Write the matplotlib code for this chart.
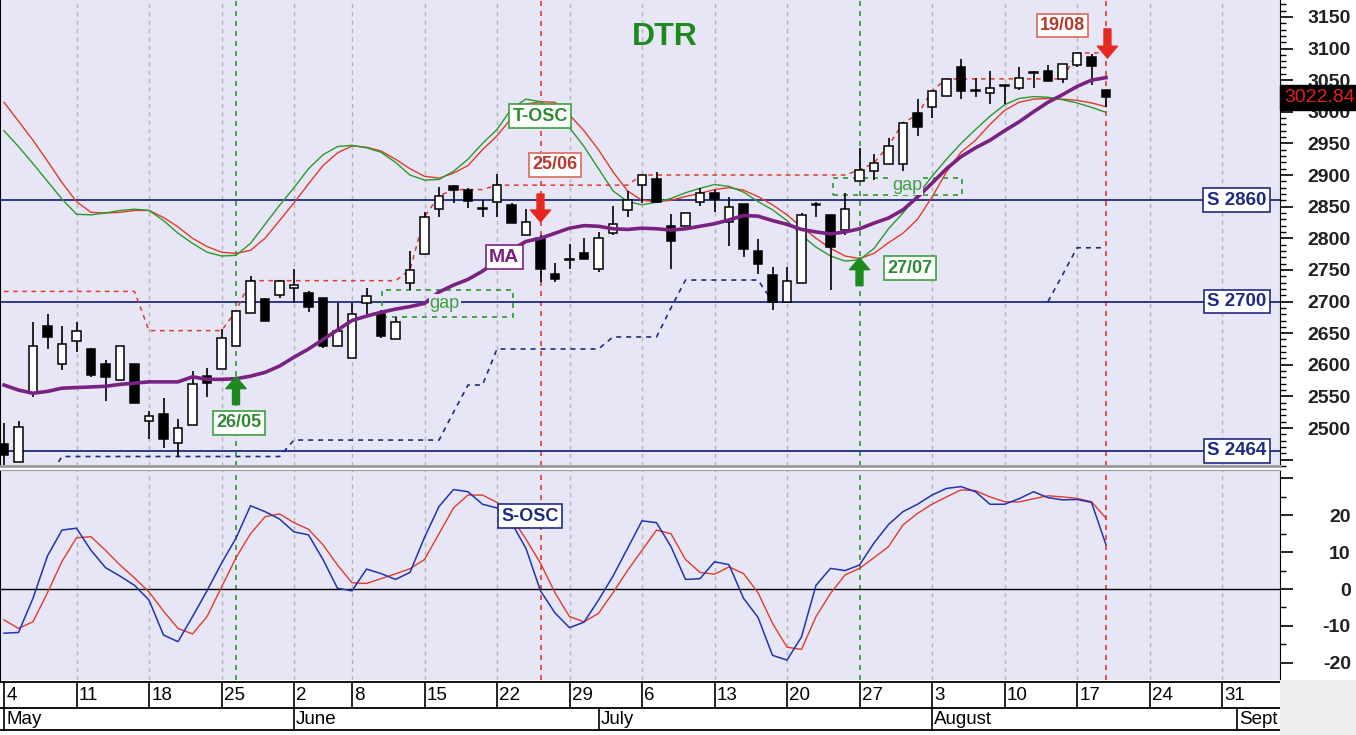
import numpy as np
import matplotlib
matplotlib.use("Agg")
import matplotlib.pyplot as plt
from matplotlib.patches import Rectangle
import matplotlib.transforms as mtransforms

plt.rcParams['font.family'] = ['Liberation Sans', 'DejaVu Sans']

# ---- data (one value per trading day, 4 May .. 19 Aug) ----
opens = [2475, 2446, 2555, 2661, 2601, 2637, 2625, 2601, 2576, 2601,
         2511, 2522, 2476, 2505, 2583, 2594, 2630, 2682, 2704, 2711,
         2721, 2713, 2706, 2629, 2611, 2697, 2680, 2641, 2729, 2775,
         2847, 2883, 2876, 2846, 2857, 2853, 2805, 2800, 2743, 2766,
         2777, 2751, 2808, 2844, 2884, 2894, 2820, 2820, 2858, 2871,
         2825, 2854, 2780, 2742, 2700, 2730, 2852, 2837, 2813, 2891,
         2907, 2917, 2917, 2998, 3007, 3025, 3071, 3033, 3029, 3041,
         3037, 3061, 3064, 3052, 3074, 3086, 3035]
highs = [2508, 2511, 2668, 2680, 2661, 2668, 2627, 2607, 2630, 2601,
         2527, 2548, 2514, 2590, 2595, 2656, 2685, 2740, 2706, 2733,
         2751, 2716, 2706, 2698, 2698, 2721, 2687, 2676, 2780, 2842,
         2881, 2885, 2879, 2860, 2902, 2855, 2847, 2805, 2761, 2791,
         2800, 2810, 2851, 2875, 2900, 2904, 2838, 2840, 2879, 2876,
         2866, 2854, 2799, 2754, 2754, 2840, 2858, 2837, 2871, 2942,
         2934, 2958, 2983, 3020, 3033, 3052, 3083, 3053, 3064, 3043,
         3071, 3064, 3074, 3075, 3093, 3092, 3035]
lows = [2442, 2446, 2549, 2625, 2592, 2621, 2581, 2542, 2576, 2539,
        2483, 2469, 2455, 2505, 2549, 2594, 2630, 2682, 2670, 2705,
        2698, 2684, 2626, 2629, 2611, 2681, 2642, 2641, 2718, 2775,
        2834, 2855, 2848, 2834, 2834, 2824, 2805, 2731, 2731, 2752,
        2767, 2746, 2805, 2834, 2855, 2855, 2751, 2820, 2851, 2842,
        2788, 2771, 2743, 2687, 2700, 2730, 2834, 2718, 2805, 2891,
        2892, 2917, 2907, 2962, 2990, 3025, 3020, 3024, 3013, 3013,
        3035, 3037, 3049, 3045, 3070, 3042, 3008]
closes = [2457, 2501, 2630, 2644, 2633, 2654, 2584, 2581, 2630, 2539,
          2519, 2483, 2500, 2570, 2571, 2643, 2685, 2733, 2670, 2733,
          2726, 2692, 2629, 2654, 2680, 2708, 2646, 2668, 2750, 2834,
          2867, 2877, 2859, 2848, 2884, 2824, 2826, 2752, 2736, 2768,
          2767, 2800, 2823, 2860, 2900, 2857, 2796, 2840, 2872, 2862,
          2849, 2783, 2759, 2700, 2732, 2837, 2854, 2787, 2846, 2908,
          2919, 2946, 2983, 2976, 3033, 3052, 3033, 3035, 3037, 3043,
          3053, 3063, 3049, 3075, 3093, 3072, 3022.84]

ma = [2568, 2560, 2555, 2558, 2563, 2564, 2565, 2566, 2569, 2571,
      2573, 2573, 2573, 2581, 2577, 2577, 2578, 2582, 2588, 2598,
      2612, 2625, 2640, 2655, 2670, 2677, 2683, 2688, 2692, 2697,
      2715, 2726, 2735, 2748, 2765, 2782, 2795, 2800, 2808, 2816,
      2820, 2819, 2815, 2814, 2816, 2815, 2813, 2815, 2819, 2823,
      2829, 2836, 2835, 2828, 2822, 2814, 2810, 2807, 2810, 2815,
      2824, 2832, 2845, 2865, 2887, 2910, 2929, 2943, 2955, 2970,
      2984, 3000, 3015, 3027, 3040, 3050, 3054]

tosc_fast = [2970, 2945, 2918, 2890, 2862, 2838, 2837, 2840, 2844, 2846,
             2844, 2828, 2808, 2792, 2778, 2772, 2773, 2792, 2822, 2852,
             2880, 2910, 2932, 2945, 2947, 2943, 2936, 2920, 2900, 2892,
             2893, 2906, 2925, 2950, 2972, 3005, 3020, 3016, 3000, 2975,
             2945, 2910, 2875, 2858, 2853, 2857, 2863, 2872, 2879, 2885,
             2882, 2873, 2858, 2845, 2828, 2805, 2786, 2772, 2764, 2766,
             2784, 2815, 2840, 2868, 2898, 2925, 2950, 2972, 2993, 3011,
             3021, 3024, 3023, 3019, 3014, 3007, 2999]
tosc_slow = [3015, 2985, 2955, 2922, 2888, 2858, 2841, 2840, 2841, 2844,
             2844, 2833, 2818, 2800, 2787, 2778, 2776, 2781, 2800, 2828,
             2856, 2886, 2915, 2935, 2946, 2944, 2938, 2925, 2910, 2898,
             2895, 2903, 2915, 2940, 2962, 2990, 3012, 3016, 3015, 2995,
             2970, 2940, 2905, 2875, 2860, 2858, 2860, 2866, 2871, 2877,
             2880, 2876, 2866, 2853, 2837, 2818, 2800, 2784, 2772, 2768,
             2776, 2793, 2808, 2830, 2865, 2905, 2936, 2955, 2980, 3002,
             3015, 3020, 3021, 3020, 3018, 3014, 3008]

resist = ([2716] * 10 + [2654] * 6 + [2685] + [2733] * 11 + [2750, 2834, 2867]
          + [2877] * 3 + [2884] * 10 + [2900] * 15 + [2908, 2919, 2946, 2983, 2995, 3033]
          + [3052] * 9 + [3093] * 3)
support = ([np.nan] * 3 + [2420] + [2455] * 16 + [2481] * 11 + [2525, 2568, 2568]
           + [2625] * 8 + [2644] * 4 + [2690] + [2734] * 6 + [2700]
           + [np.nan] * 18 + [2700, 2742, 2785, 2785, 2785])

sosc_fast = [-12.0, -11.8, -2.5, 9.0, 16.0, 16.5, 10.5, 5.8, 3.5, 1.0,
             -3.0, -12.5, -14.3, -7.5, -0.5, 7.0, 13.8, 22.6, 21.0, 19.0,
             15.5, 14.7, 8.0, 0.2, -0.5, 5.4, 4.2, 2.6, 4.5, 14.0,
             22.4, 27.0, 26.4, 23.0, 22.0, 18.0, 11.0, -0.5, -6.5, -10.5,
             -9.0, -3.0, 3.5, 11.0, 18.5, 18.0, 11.5, 2.6, 2.8, 7.4,
             6.6, -2.5, -7.7, -18.0, -19.3, -13.0, 1.0, 5.6, 5.0, 6.5,
             12.5, 17.5, 21.0, 23.0, 25.5, 27.3, 27.8, 26.4, 23.0, 23.0,
             24.5, 26.4, 24.8, 24.2, 24.3, 23.5, 12.0]
sosc_slow = [-8.4, -10.7, -8.9, -1.0, 7.5, 13.9, 14.2, 10.5, 6.5, 3.0,
             -0.8, -6.0, -10.7, -12.2, -7.5, 0.5, 8.5, 15.0, 19.6, 20.4,
             18.0, 16.2, 12.0, 6.5, 1.7, 1.5, 2.8, 4.1, 5.5, 8.0,
             15.0, 22.0, 25.5, 25.5, 23.5, 19.5, 13.5, 7.0, -1.0, -7.5,
             -8.9, -6.6, -1.0, 5.0, 10.5, 16.0, 15.0, 8.0, 4.5, 4.0,
             6.0, 4.2, -1.0, -9.3, -15.8, -16.4, -7.5, -1.2, 3.8, 5.6,
             8.5, 11.5, 17.4, 20.5, 23.0, 25.0, 26.9, 26.7, 25.0, 23.7,
             23.6, 24.5, 25.3, 25.0, 24.6, 23.7, 19.2]

levels = [2860, 2700, 2464]
week_idx = [0, 5, 10, 15, 20, 24, 29, 34, 39, 44, 49, 54, 59, 64, 69, 74, 79, 84]
week_lbl = ["4", "11", "18", "25", "2", "8", "15", "22", "29", "6", "13", "20",
            "27", "3", "10", "17", "24", "31"]
month_idx = [0, 20, 41, 64, 85]
month_lbl = ["May", "June", "July", "August", "Sept"]
buy_idx = [16, 59]
buy_lbl = ["26/05", "27/07"]
sell_idx = [37, 76]
sell_lbl = ["25/06", "19/08"]

# ---- colours ----
bg = '#E6E6F6'
navy = '#1F2A80'
green = '#2A9A2A'
red = '#E23A2A'
purple = '#7A2182'
grid_c = '#B4B4B4'
lbl_green = '#2C8A34'
lbl_red = '#B5392C'

W, H = 1356, 735
fig = plt.figure(figsize=(W / 100, H / 100), dpi=100, facecolor='white')
xr = 1280 / W
ax1 = fig.add_axes([0, 1 - 466 / H, xr, 466 / H])
ax2 = fig.add_axes([0, 1 - 680 / H, xr, 210 / H])
ax3 = fig.add_axes([0, 1 - 731 / H, xr, 50 / H])
fig.patches.append(Rectangle((xr, 0), 1 - xr, 55 / H, transform=fig.transFigure,
                             fc='#EEEEEE', ec='none'))

n = len(closes)
x = np.arange(n)
xlim = (-0.276, 88.0)

for ax in (ax1, ax2):
    ax.set_facecolor(bg)
    ax.set_xlim(*xlim)
    ax.set_xticks([])
    for i in week_idx[1:]:
        if i in buy_idx or i in sell_idx:
            continue
        ax.axvline(i, color=grid_c, lw=1, ls=(0, (3, 3)), zorder=1)
    for i in buy_idx:
        ax.axvline(i, color=green, lw=1.2, ls=(0, (3, 3)), zorder=1)
    for i in sell_idx:
        ax.axvline(i, color=red, lw=1.2, ls=(0, (3, 3)), zorder=1)
    ax.yaxis.tick_right()
    ax.spines['top'].set_visible(False)
    ax.spines['left'].set_color('black')

# ---- price panel ----
ax1.set_ylim(2440, 3176.7)
for lv in levels:
    ax1.axhline(lv, color=navy, lw=1.3, zorder=2)
    ax1.text(85.0, lv, f"S {lv}", ha='center', va='center', color=navy, fontsize=13.5,
             fontweight='bold', zorder=7,
             bbox=dict(boxstyle='square,pad=0.18', fc='white', ec=navy, lw=1.2))

ax1.plot(x, tosc_slow, color=red, lw=1, zorder=3)
ax1.plot(x, tosc_fast, color=green, lw=1, zorder=3)
ax1.plot(x, resist, color=red, lw=1.1, ls=(0, (3, 3)), zorder=3)
ax1.plot(x, support, color=navy, lw=1.2, ls=(0, (3, 3)), zorder=3)

# gap boxes
for (x0, x1, y0, y1, tx, ty) in [(26.1, 35.1, 2676, 2718, 30.4, 2697),
                                  (57.2, 66.1, 2868, 2895, 62.3, 2883)]:
    ax1.add_patch(Rectangle((x0, y0), x1 - x0, y1 - y0, fill=False, ec=green, lw=1.2,
                            ls=(0, (3, 3)), zorder=3))
    ax1.text(tx, ty, "gap", color='#3FA03F', fontsize=13, ha='center', va='center',
             zorder=6, bbox=dict(boxstyle='square,pad=0.05', fc=bg, ec='none'))

o = np.array(opens, dtype=float)
c = np.array(closes, dtype=float)
ax1.vlines(x, lows, highs, color='black', lw=1.2, zorder=4)
up = c >= o
body_lo = np.minimum(o, c)
body_h = np.maximum(np.abs(c - o), 1.5)
ax1.bar(x[up], body_h[up], bottom=body_lo[up], width=0.62, color='white',
        edgecolor='black', lw=1.1, zorder=4.5)
ax1.bar(x[~up], body_h[~up], bottom=body_lo[~up], width=0.62, color='black',
        edgecolor='black', lw=1.1, zorder=4.5)

ax1.plot(x, ma, color=purple, lw=2.6, zorder=5)

# signal arrows
arrow = 'simple,head_width=1.45,head_length=0.85,tail_width=0.5'
for (xa, ytip, ytail, col) in [(16, 2581, 2537, '#1E8A1E'), (59, 2769, 2725, '#1E8A1E'),
                               (37, 2826, 2870, '#E8281E'), (76.1, 3085, 3131, '#E8281E')]:
    ax1.annotate('', xy=(xa, ytip), xytext=(xa, ytail), zorder=7,
                 arrowprops=dict(arrowstyle=arrow, color=col, mutation_scale=10,
                                 shrinkA=0, shrinkB=0))

def tag(ax, xx, yy, s, col, ec=None, fs=13):
    ax.text(xx, yy, s, ha='center', va='center', color=col, fontsize=fs, zorder=8,
            fontweight='bold',
            bbox=dict(boxstyle='square,pad=0.18', fc='white', ec=ec or col, lw=1.2))

tag(ax1, 16.2, 2508, buy_lbl[0], lbl_green, '#3CA03C')
tag(ax1, 62.5, 2753, buy_lbl[1], lbl_green, '#3CA03C')
tag(ax1, 38.0, 2916, sell_lbl[0], lbl_red, '#D86A5A')
tag(ax1, 73.0, 3136, sell_lbl[1], lbl_red, '#D86A5A')
tag(ax1, 36.97, 2993, "T-OSC", lbl_green, '#3CA03C')
tag(ax1, 34.5, 2770, "MA", purple, fs=14)
ax1.text(45.6, 3118, "DTR", color='#1E8A1E', fontsize=23, fontweight='bold',
         ha='center', va='center', zorder=8)

trans = mtransforms.blended_transform_factory(ax1.transAxes, ax1.transData)
ax1.text(1.003, closes[-1], f"{closes[-1]:.2f}", transform=trans, ha='left', va='center',
         color='#E02020', fontsize=14, clip_on=False, zorder=10,
         bbox=dict(boxstyle='square,pad=0.2', fc='black', ec='black'))

ax1.set_yticks(np.arange(2450, 3151, 50))
ax1.set_yticklabels([''] + [str(v) for v in range(2500, 3151, 50)])
ax1.set_yticks(np.arange(2440, 3171, 10), minor=True)
ax1.tick_params(axis='y', which='major', length=9, width=1.2, direction='out',
                pad=42, labelsize=14, colors='black')
ax1.tick_params(axis='y', which='minor', length=4.5, width=1, direction='out')
ax1.spines['bottom'].set_color('#9A9A9A')
ax1.spines['bottom'].set_linewidth(2)

# ---- oscillator panel ----
ax2.set_ylim(-24.7, 32.3)
ax2.axhline(0, color='black', lw=1, zorder=2)
ax2.plot(x, sosc_slow, color=red, lw=1, zorder=3)
ax2.plot(x, sosc_fast, color='#2232B0', lw=1.1, zorder=3)
tag(ax2, 36.3, 19.8, "S-OSC", navy)
ax2.set_yticks([-20, -10, 0, 10, 20, 30])
ax2.set_yticklabels(['-20', '-10', '0', '10', '20', ''])
ax2.set_yticks([-15, -5, 5, 15, 25], minor=True)
ax2.tick_params(axis='y', which='major', length=9, width=1.2, direction='out',
                pad=42, labelsize=14)
ax2.tick_params(axis='y', which='minor', length=4.5, width=1, direction='out')
ax2.spines['top'].set_visible(True)
ax2.spines['top'].set_color('#9A9A9A')
ax2.spines['bottom'].set_visible(False)

for ax in (ax1, ax2):
    for lab in ax.get_yticklabels():
        lab.set_horizontalalignment('right')
        lab.set_fontweight('bold')
        lab.set_color('#202020')

# ---- date axis ----
ax3.set_xlim(*xlim)
ax3.set_ylim(0, 50)
ax3.axis('off')
ax3.add_patch(Rectangle((xlim[0], 1), xlim[1] - xlim[0], 48, fc='white', ec='none', zorder=0))
for yy in (49, 23, 1):
    ax3.plot(xlim, [yy, yy], color='black', lw=1.3, clip_on=False)
for i, s in zip(week_idx, week_lbl):
    ax3.plot([i, i], [23, 49], color='black', lw=1.2)
    ax3.text(i + 0.15, 36, s, ha='left', va='center', fontsize=13.5, clip_on=True)
for i, s in zip(month_idx, month_lbl):
    ax3.plot([i, i], [1, 23], color='black', lw=1.2)
    ax3.text(i + 0.15, 12, s, ha='left', va='center', fontsize=13.5, clip_on=True)

fig.savefig("out.png", dpi=100, facecolor=fig.get_facecolor())
